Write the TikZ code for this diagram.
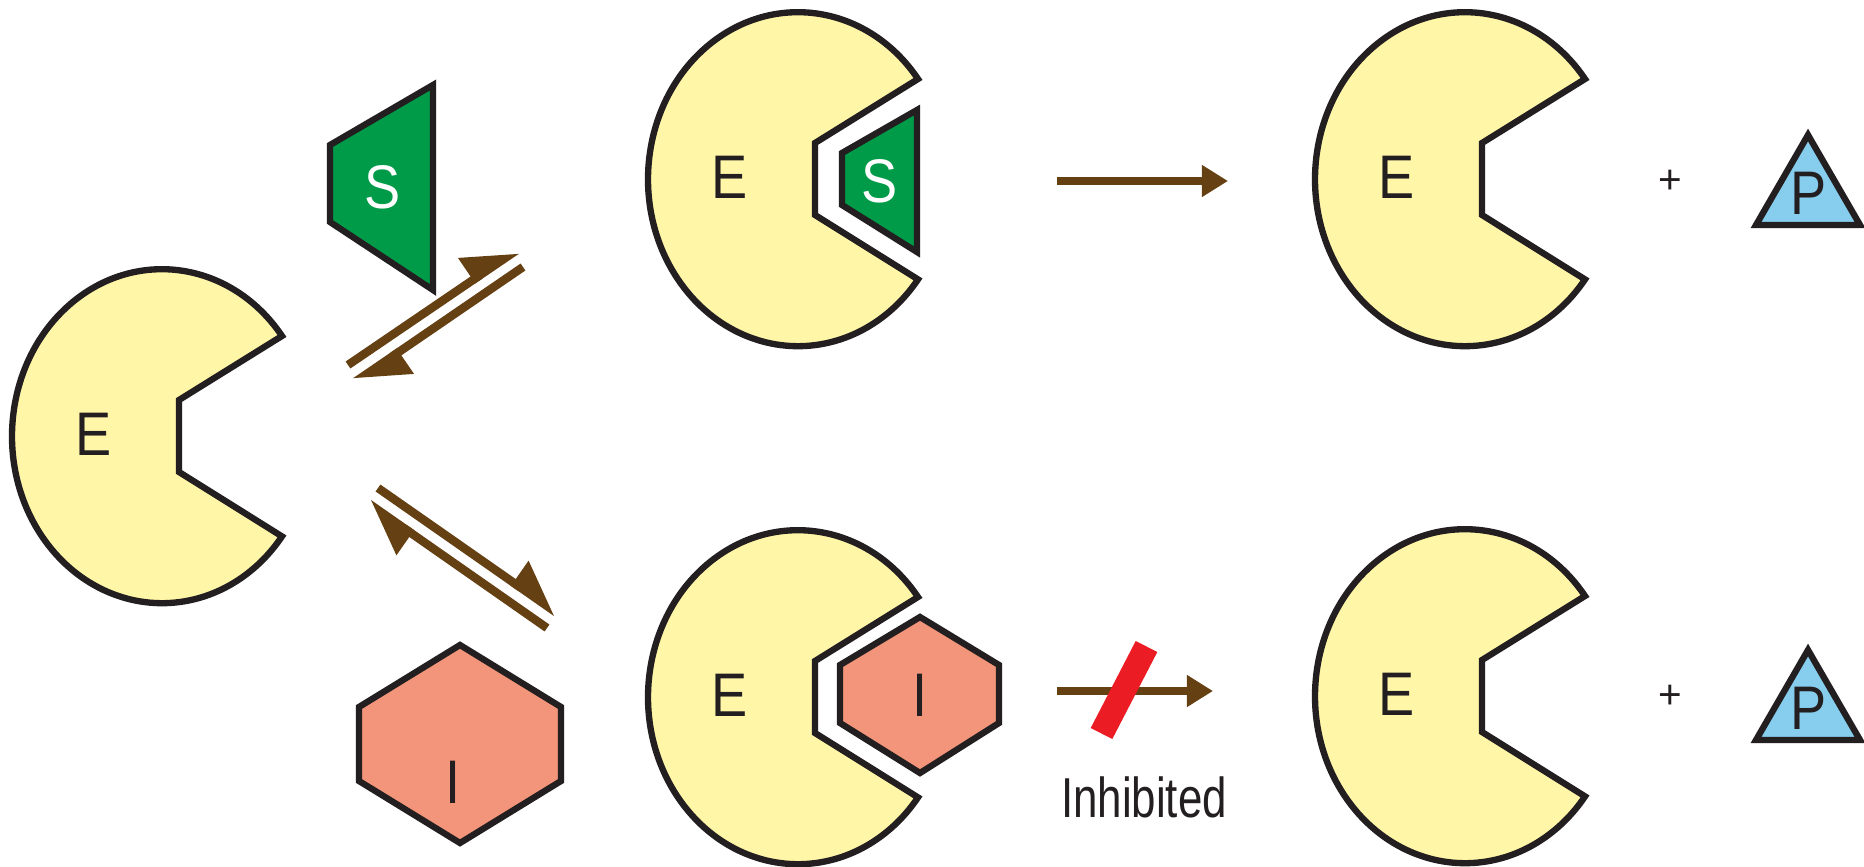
\documentclass[tikz,border=0pt]{standalone}
\usepackage{fontspec}
\setmainfont{Liberation Sans}
\newfontfamily\condfont{Liberation Sans}[FakeStretch=0.88]
\newfontfamily\narrowfont{Liberation Sans}[FakeStretch=0.78]
\usetikzlibrary{arrows.meta,calc}

\definecolor{enzymefill}{HTML}{FFF6A8}
\definecolor{substratefill}{HTML}{009B48}
\definecolor{inhibfill}{HTML}{F3957A}
\definecolor{productfill}{HTML}{86CDEE}
\definecolor{rxn}{HTML}{654012}
\definecolor{blockred}{HTML}{EC1C24}
\definecolor{ink}{HTML}{231F20}

\tikzset{
  shapeline/.style={draw=ink, line width=1.8pt, line join=miter},
  lbl/.style={inner sep=0pt, text=ink, font=\condfont\fontsize{17.5}{18}\selectfont},
  wlbl/.style={lbl, text=white},
  plus/.style={inner sep=0pt, text=ink, font=\fontsize{11.5}{12}\selectfont},
  rxnarrow/.style={draw=rxn, line width=2.4pt, -{Triangle[length=7.4pt, width=8.6pt]}},
  rxnharp/.style={draw=rxn, line width=2.4pt, -{Triangle[harpoon, length=13pt, width=14.5pt]}},
  enzyme/.pic={
    \path[shapeline, fill=enzymefill] (120,-100)
      arc[start angle=-36.87, end angle=-323.13, x radius=150, y radius=167]
      -- (17,36) -- (17,-36) -- cycle;
    \node[lbl] (-lbl) at (-68,-2) {E};
  },
}

\begin{document}
\begin{tikzpicture}[x=0.01cm, y=-0.01cm]
\useasboundingbox[fill=white] (0,0) rectangle (1864,867);

% free enzyme
\pic (e0) at (162,436) {enzyme};

% free substrate
\path[shapeline, fill=substratefill] (433,85) -- (330,145) -- (330,222) -- (433,290) -- cycle;
\node[wlbl] (s0) at (383,187) {S};

% free inhibitor
\path[shapeline, fill=inhibfill] (460,645) -- (561,707) -- (561,781) -- (460,843) -- (359,781) -- (359,707) -- cycle;
\node[lbl] (i0) at (453,782) {I};

% ES complex
\pic (es) at (798,179) {enzyme};
\path[shapeline, fill=substratefill] (917,110) -- (842,153) -- (842,205) -- (917,252) -- cycle;
\node[wlbl] (s1) at (880,181) {S};

% EI complex
\pic (ei) at (798,697) {enzyme};
\path[shapeline, fill=inhibfill] (920,617) -- (999,665) -- (999,723) -- (920,773) -- (840,723) -- (840,665) -- cycle;
\node[lbl] (i1) at (920,695) {I};

% products
\pic (ep1) at (1465,179) {enzyme};
\pic (ep2) at (1465,696) {enzyme};
\node[plus] (plus1) at (1670,182) {+};
\node[plus] (plus2) at (1670,697) {+};
\path[shapeline, fill=productfill] (1808,135) -- (1860,225) -- (1756,225) -- cycle;
\node[lbl] (p1) at (1809,193) {P};
\path[shapeline, fill=productfill] (1808,650) -- (1860,740) -- (1756,740) -- cycle;
\node[lbl] (p2) at (1809,708) {P};

% arrow end points
\coordinate (a1s) at (348,365);
\coordinate (a1e) at (517,250);
\coordinate (a2s) at (523,267);
\coordinate (a2e) at (355,382);
\coordinate (b1s) at (378,488);
\coordinate (b1e) at (557,613);
\coordinate (b2s) at (547,628);
\coordinate (b2e) at (368,503);
\coordinate (c1s) at (1057,181);
\coordinate (c1e) at (1228,181);
\coordinate (d1s) at (1057,691);
\coordinate (d1e) at (1213,691);

% equilibria
\draw[rxnharp] (a1s) -- (a1e);
\draw[rxnharp] (a2s) -- (a2e);
\draw[rxnharp] (b1s) -- (b1e);
\draw[rxnharp] (b2s) -- (b2e);

% catalysis
\draw[rxnarrow] (c1s) -- (c1e);
\draw[rxnarrow] (d1s) -- (d1e);

% blocking bar
\fill[blockred] (1157.3,652.0) -- (1135.7,641.0) -- (1090.7,728.0) -- (1112.3,739.0) -- cycle;
\node[inner sep=0pt, text=ink, anchor=base, font=\narrowfont\fontsize{16}{16}\selectfont] (inh) at (1144,817) {Inhibited};
\end{tikzpicture}
\end{document}
